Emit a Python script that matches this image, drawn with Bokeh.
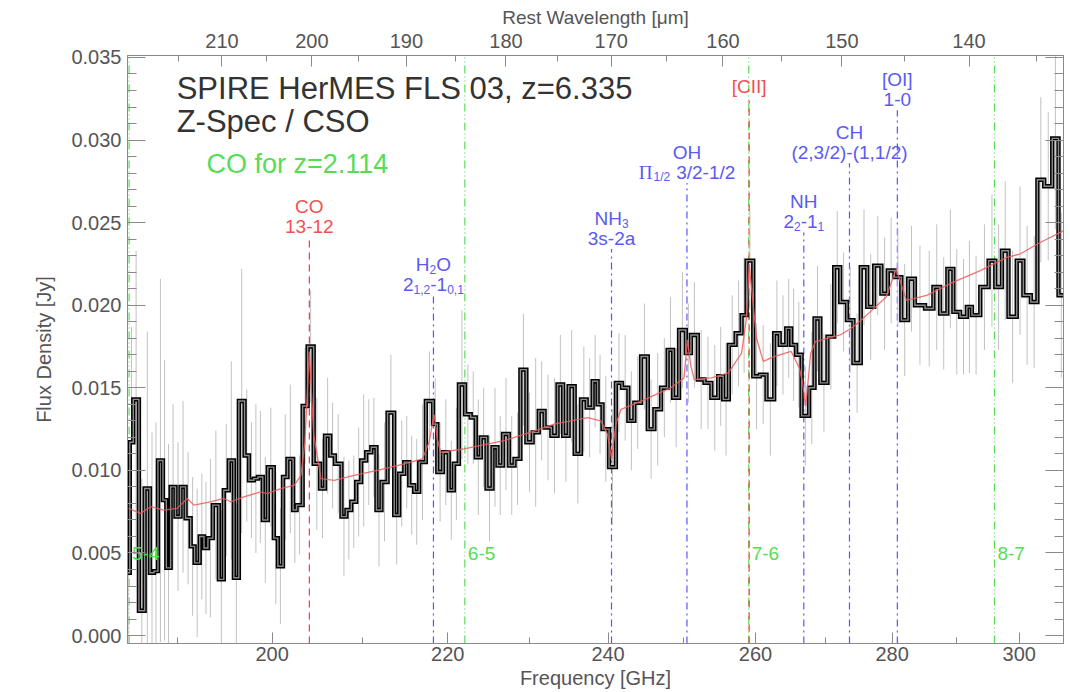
from bokeh.plotting import figure
from bokeh.models import (Range1d, LogScale, LogAxis, LinearAxis, FixedTicker,
                          SingleIntervalTicker, NumeralTickFormatter, PrintfTickFormatter,
                          CustomJSTickFormatter)
from bokeh.core.properties import value
from bokeh.embed import file_html
from bokeh.resources import INLINE

# ---------------- data ----------------
Z_SRC = 6.335
Z_CO = 2.114
C_UM_GHZ = 299792.458

freq_edges = [
    184.80, 185.13, 185.48, 186.05, 186.63, 187.17, 187.58, 187.98, 188.49, 188.84,
    189.28, 189.78, 190.30, 190.82, 191.35, 191.76, 192.29, 192.74, 193.15, 193.67,
    194.30, 194.82, 195.35, 195.89, 196.42, 197.03, 197.50, 198.03, 198.46, 198.99,
    199.53, 200.18, 200.62, 201.18, 201.67, 202.29, 202.67, 203.34, 203.89, 204.56,
    205.26, 205.82, 206.41, 206.93, 207.67, 208.23, 208.78, 209.34, 209.90, 210.48,
    211.06, 211.65, 212.23, 212.93, 213.70, 214.28, 214.87, 215.45, 216.03, 216.62,
    217.40, 218.25, 218.76, 219.42, 220.12, 220.73, 221.34, 222.07, 222.76, 223.37,
    223.98, 224.68, 225.41, 226.02, 226.70, 227.43, 228.12, 228.85, 229.59, 230.37,
    231.14, 231.87, 232.73, 233.51, 234.22, 234.92, 235.69, 236.50, 237.23, 238.00,
    238.64, 239.28, 240.13, 241.02, 241.82, 242.66, 243.45, 244.34, 245.23, 246.11,
    247.00, 247.89, 248.63, 249.43, 250.34, 251.04, 251.98, 252.90, 253.84, 254.78,
    255.48, 256.26, 257.20, 258.04, 258.74, 259.68, 260.61, 261.55, 262.64, 263.43,
    264.37, 265.08, 265.78, 266.58, 267.66, 268.46, 269.31, 270.35, 271.34, 272.23,
    273.22, 274.19, 275.28, 276.25, 277.29, 278.38, 279.35, 280.36, 281.41, 282.44,
    283.49, 285.05, 286.35, 287.39, 288.53, 289.47, 290.53, 291.60, 292.40, 293.73,
    295.06, 296.13, 297.20, 298.26, 299.60, 300.68, 301.90, 302.98, 304.10, 305.43,
    306.47, 307.40]

flux = [
    0.0038, 0.0117, 0.0143, 0.0015, 0.0089, 0.0038, 0.0039, 0.0106, 0.0082, 0.0041,
    0.0090, 0.0072, 0.0090, 0.0071, 0.0054, 0.0044, 0.0060, 0.0053, 0.0059, 0.0079,
    0.0034, 0.0088, 0.0106, 0.0035, 0.0142, 0.0109, 0.0094, 0.0095, 0.0096, 0.0070,
    0.0102, 0.0059, 0.0042, 0.0096, 0.0107, 0.0076, 0.0079, 0.0139, 0.0175, 0.0104,
    0.0089, 0.0121, 0.0109, 0.0104, 0.0072, 0.0076, 0.0081, 0.0093, 0.0106, 0.0111,
    0.0114, 0.0076, 0.0093, 0.0135, 0.0073, 0.0098, 0.0105, 0.0091, 0.0087, 0.0105,
    0.0142, 0.0128, 0.0099, 0.0111, 0.0088, 0.0104, 0.0152, 0.0134, 0.0132, 0.0108,
    0.0120, 0.0089, 0.0114, 0.0103, 0.0122, 0.0103, 0.0107, 0.0161, 0.0117, 0.0123,
    0.0136, 0.0126, 0.0121, 0.0152, 0.0121, 0.0151, 0.0110, 0.0143, 0.0138, 0.0154,
    0.0140, 0.0125, 0.0102, 0.0153, 0.0150, 0.0130, 0.0141, 0.0169, 0.0125, 0.0137,
    0.0150, 0.0173, 0.0144, 0.0185, 0.0171, 0.0182, 0.0155, 0.0153, 0.0144, 0.0157,
    0.0143, 0.0176, 0.0183, 0.0194, 0.0227, 0.0157, 0.0158, 0.0143, 0.0183, 0.0176,
    0.0186, 0.0176, 0.0170, 0.0133, 0.0150, 0.0192, 0.0153, 0.0181, 0.0223, 0.0202,
    0.0191, 0.0165, 0.0223, 0.0199, 0.0224, 0.0207, 0.0221, 0.0217, 0.0191, 0.0216,
    0.0200, 0.0198, 0.0211, 0.0195, 0.0222, 0.0196, 0.0193, 0.0199, 0.0194, 0.0211,
    0.0227, 0.0211, 0.0233, 0.0193, 0.0227, 0.0206, 0.0202, 0.0276, 0.0272, 0.0301,
    0.0206]

flux_err = [
    0.0060, 0.0070, 0.0090, 0.0080, 0.0095, 0.0085, 0.0090, 0.0110, 0.0085, 0.0075,
    0.0050, 0.0045, 0.0052, 0.0040, 0.0042, 0.0045, 0.0038, 0.0040, 0.0048, 0.0045,
    0.0042, 0.0040, 0.0060, 0.0045, 0.0080, 0.0040, 0.0035, 0.0045, 0.0040, 0.0038,
    0.0036, 0.0040, 0.0035, 0.0038, 0.0045, 0.0032, 0.0030, 0.0035, 0.0034, 0.0040,
    0.0030, 0.0035, 0.0032, 0.0030, 0.0036, 0.0030, 0.0028, 0.0033, 0.0040, 0.0032,
    0.0030, 0.0034, 0.0036, 0.0035, 0.0030, 0.0032, 0.0028, 0.0030, 0.0032, 0.0035,
    0.0030, 0.0028, 0.0030, 0.0032, 0.0030, 0.0034, 0.0045, 0.0030, 0.0028, 0.0035,
    0.0030, 0.0032, 0.0036, 0.0030, 0.0034, 0.0030, 0.0028, 0.0034, 0.0030, 0.0045,
    0.0030, 0.0032, 0.0035, 0.0030, 0.0028, 0.0034, 0.0030, 0.0032, 0.0030, 0.0028,
    0.0030, 0.0032, 0.0035, 0.0030, 0.0032, 0.0030, 0.0028, 0.0032, 0.0030, 0.0034,
    0.0030, 0.0032, 0.0030, 0.0035, 0.0030, 0.0032, 0.0030, 0.0028, 0.0032, 0.0030,
    0.0034, 0.0030, 0.0032, 0.0035, 0.0030, 0.0032, 0.0030, 0.0034, 0.0032, 0.0030,
    0.0030, 0.0034, 0.0032, 0.0030, 0.0034, 0.0032, 0.0030, 0.0032, 0.0034, 0.0030,
    0.0032, 0.0030, 0.0035, 0.0032, 0.0030, 0.0034, 0.0032, 0.0030, 0.0034, 0.0032,
    0.0036, 0.0035, 0.0038, 0.0034, 0.0036, 0.0038, 0.0035, 0.0040, 0.0036, 0.0038,
    0.0040, 0.0038, 0.0042, 0.0040, 0.0045, 0.0042, 0.0040, 0.0050, 0.0045, 0.0055,
    0.0050]

model_freq = [
    185.0, 186.22, 187.24, 188.59, 189.95, 191.0, 191.69, 193.43, 194.82, 195.54,
    196.96, 198.75, 199.46, 200.92, 202.40, 203.15, 203.59, 204.07, 204.56, 205.37,
    206.85, 209.08, 211.76, 214.87, 217.01, 217.78, 218.37, 218.76, 219.15, 221.95,
    226.82, 230.08, 233.07, 237.36, 239.06, 239.92, 240.45, 241.02, 241.69, 244.34,
    248.32, 250.10, 250.57, 251.04, 251.50, 253.84, 256.18, 258.04, 258.74, 259.10,
    260.14, 261.09, 262.72, 265.08, 266.25, 266.73, 267.19, 267.90, 268.60, 272.23,
    274.19, 276.16, 279.11, 280.63, 282.19, 285.31, 289.47, 293.73, 298.0, 300.13,
    303.44, 307.3]
model_flux = [
    0.0077, 0.0074, 0.0078, 0.0076, 0.0077, 0.0083, 0.0079, 0.0081, 0.0083, 0.0081,
    0.0084, 0.0087, 0.0086, 0.0089, 0.0091, 0.0097, 0.0117, 0.0172, 0.0122, 0.0095,
    0.0094, 0.0097, 0.0100, 0.0104, 0.0107, 0.0117, 0.0134, 0.0119, 0.0111, 0.0113,
    0.0118, 0.0123, 0.0128, 0.0132, 0.0130, 0.0122, 0.0107, 0.0128, 0.0137, 0.0142,
    0.0150, 0.0156, 0.0179, 0.0163, 0.0155, 0.0156, 0.0159, 0.0171, 0.0193, 0.0225,
    0.0180, 0.0166, 0.0169, 0.0172, 0.0162, 0.0153, 0.0139, 0.0171, 0.0178, 0.0182,
    0.0187, 0.0194, 0.0205, 0.0222, 0.0203, 0.0206, 0.0214, 0.0221, 0.0229, 0.0231,
    0.0238, 0.0245]

# red (main redshift) lines: CO 13-12 and [CII]
red_freq = [204.08, 259.10]
red_top = [0.0241, 0.0324]
# blue lines: H2O, NH3, OH, NH, CH, [OI]
blue_freq = [218.30, 240.45, 250.50, 266.90, 273.60, 280.80]
blue_top = [0.0206, 0.0234, 0.0274, 0.0244, 0.0286, 0.0318]
# green lines: CO ladder at z=2.114
green_names = ["5-4", "6-5", "7-6", "8-7"]
green_freq = [185.06, 222.05, 259.04, 296.00]

freq_ticks = [200, 220, 240, 260, 280, 300]
freq_minor = [190, 210, 230, 250, 270, 290]
lam_ticks = [140, 150, 160, 170, 180, 190, 200, 210]
lam_minor = [135, 145, 155, 165, 175, 185, 195, 205, 215]

# ---------------- figure ----------------
X0, X1 = 184.9, 307.3
Y0, Y1 = -0.00048, 0.03512
PX = (Y1 - Y0) / 588.0
FONT = "Liberation Sans"
AX_COL = "#8a8a8a"
LAB_COL = "#555555"
RED = "#ff3333"
RED_T = "#f25050"
BLUE = "#5555ff"
BLUE_T = "#5a5af0"
GREEN = "#55dd55"

p = figure(frame_width=936, frame_height=588, x_axis_type="log",
           x_range=Range1d(X0, X1), y_range=Range1d(Y0, Y1),
           output_backend="svg", toolbar_location=None,
           min_border_left=127, min_border_top=55, min_border_right=6,
           min_border_bottom=49, background_fill_color="white",
           border_fill_color="white")
p.grid.visible = False
p.outline_line_color = AX_COL


def style_axis(ax, tin, tmin, lsize="20px", tsize="20px"):
    ax.axis_line_color = AX_COL
    ax.major_tick_line_color = AX_COL
    ax.minor_tick_line_color = AX_COL
    ax.major_tick_in = tin
    ax.major_tick_out = 0
    ax.minor_tick_in = tmin
    ax.minor_tick_out = 0
    ax.major_label_text_font = FONT
    ax.major_label_text_font_size = lsize
    ax.major_label_text_color = LAB_COL
    ax.axis_label_text_font = FONT
    ax.axis_label_text_font_size = tsize
    ax.axis_label_text_font_style = "normal"
    ax.axis_label_text_color = LAB_COL


xa = p.xaxis[0]
xa.ticker = FixedTicker(ticks=freq_ticks, minor_ticks=freq_minor)
xa.formatter = PrintfTickFormatter(format="%d")
xa.axis_label = "Frequency [GHz]"
style_axis(xa, 11, 6)
xa.major_label_standoff = 3
xa.axis_label_standoff = 3

ya = p.yaxis[0]
ya.ticker = SingleIntervalTicker(interval=0.005, num_minor_ticks=5)
ya.formatter = NumeralTickFormatter(format="0.000")
ya.axis_label = "Flux Density [Jy]"
style_axis(ya, 18, 9)
ya.major_label_standoff = 6
ya.axis_label_standoff = 13

lam_left = C_UM_GHZ / (X0 * (1 + Z_SRC))
lam_right = C_UM_GHZ / (X1 * (1 + Z_SRC))
p.extra_x_ranges = {"lam": Range1d(lam_left, lam_right)}
p.extra_x_scales = {"lam": LogScale()}
top = LogAxis(x_range_name="lam",
              ticker=FixedTicker(ticks=lam_ticks, minor_ticks=lam_minor),
              formatter=PrintfTickFormatter(format="%d"),
              axis_label="Rest Wavelength [\u03bcm]")
style_axis(top, 11, 6, tsize="19px")
top.major_label_standoff = 8
top.axis_label_standoff = 3
p.add_layout(top, "above")

right = LinearAxis(ticker=SingleIntervalTicker(interval=0.005, num_minor_ticks=5),
                   formatter=CustomJSTickFormatter(code="return '';"))
style_axis(right, 18, 9)
right.major_label_standoff = 0
p.add_layout(right, "right")

# ---------------- vertical line markers ----------------
p.segment(x0=green_freq, y0=[Y0] * 4, x1=green_freq, y1=[Y1] * 4,
          line_color=GREEN, line_width=1.2, line_dash="8 3 1 3 1 3")
p.segment(x0=blue_freq, y0=[Y0] * len(blue_freq), x1=blue_freq, y1=blue_top,
          line_color=BLUE, line_width=1.2, line_dash="7 4 2 4")
p.segment(x0=red_freq, y0=[Y0] * 2, x1=red_freq, y1=red_top,
          line_color=RED, line_width=1.2, line_dash="7 5")

# ---------------- spectrum ----------------
cent = [(freq_edges[i] * freq_edges[i + 1]) ** 0.5 for i in range(len(flux))]
p.segment(x0=cent, y0=[f - e for f, e in zip(flux, flux_err)],
          x1=cent, y1=[f + e for f, e in zip(flux, flux_err)],
          line_color="#c2c2c2", line_width=1)

sx, sy = [], []
for i, f in enumerate(flux):
    sx += [freq_edges[i], freq_edges[i + 1]]
    sy += [f, f]
p.line(sx, sy, line_color="black", line_width=4.4, line_join="miter")
p.line(sx, sy, line_color="#8c8c8c", line_width=1.4, line_join="miter")

p.line(model_freq, model_flux, line_color="#f05a5a", line_width=1.3, line_alpha=0.85)

# ---------------- texts ----------------
EM = {'0': .556, '1': .556, '2': .556, '3': .556, '4': .556, '5': .556, '6': .556,
      '7': .556, '8': .556, '9': .556, ',': .278, '-': .333, '/': .278, '(': .333,
      ')': .333, ' ': .278, '[': .278, ']': .278, 'H': .722, 'O': .778, 'N': .722,
      'C': .722, 'I': .278, 's': .5, 'a': .556}


def piece(x, y, s, xo, size, color, font=FONT, align="left"):
    p.text(x=[x], y=[y], text=[s], x_offset=xo, text_font=value(font),
           text_font_size=value(f"{size}px"), text_color=color,
           text_align=align, text_baseline="middle")


def comp(x, y, pieces, color, size=19):
    sub = round(size * 0.63)
    ws = []
    for s, k in pieces:
        if k == "g":
            ws.append(0.78 * size)
        elif k == "gap":
            ws.append(float(s))
        else:
            sz = sub if k == "s" else size
            ws.append(sum(EM.get(c, 0.556) for c in s) * sz)
    cum = -sum(ws) / 2.0
    for (s, k), w in zip(pieces, ws):
        if k == "s":
            piece(x, y - 5 * PX, s, cum, sub, color)
        elif k == "g":
            piece(x, y, s, cum, size, color, font="Liberation Serif")
        elif k == "n":
            piece(x, y, s, cum, size, color)
        cum += w


# red labels
comp(red_freq[0], red_top[0] + 31 * PX, [("CO", "n")], RED_T)
comp(red_freq[0], red_top[0] + 11 * PX, [("13-12", "n")], RED_T)
comp(red_freq[1], red_top[1] + 14 * PX, [("[CII]", "n")], RED_T)

blue_labels = [
    ([("H", "n"), ("2", "s"), ("O", "n")],
     [("2", "n"), ("1,2", "s"), ("-1", "n"), ("0,1", "s")]),
    ([("NH", "n"), ("3", "s")], [("3s-2a", "n")]),
    ([("OH", "n")], [("\u03a0", "g"), ("1/2", "s"), ("6", "gap"), ("3/2-1/2", "n")]),
    ([("NH", "n")], [("2", "n"), ("2", "s"), ("-1", "n"), ("1", "s")]),
    ([("CH", "n")], [("(2,3/2)-(1,1/2)", "n")]),
    ([("[OI]", "n")], [("1-0", "n")]),
]
for fq, tp, (l1, l2) in zip(blue_freq, blue_top, blue_labels):
    comp(fq, tp + 31 * PX, l1, BLUE_T)
    comp(fq, tp + 11 * PX, l2, BLUE_T)

for nm, fq in zip(green_names, green_freq):
    piece(fq, 0.00497, nm, 3, 19, GREEN)

piece(189.9, 0.03312, "SPIRE HerMES FLS 03, z=%.3f" % Z_SRC, 0, 31, "#333333")
piece(189.9, 0.03112, "Z-Spec / CSO", 0, 31, "#333333")
piece(193.0, 0.02858, "CO for z=%.3f" % Z_CO, 0, 27, GREEN)

open("out.html", "w").write(file_html(p, INLINE))
